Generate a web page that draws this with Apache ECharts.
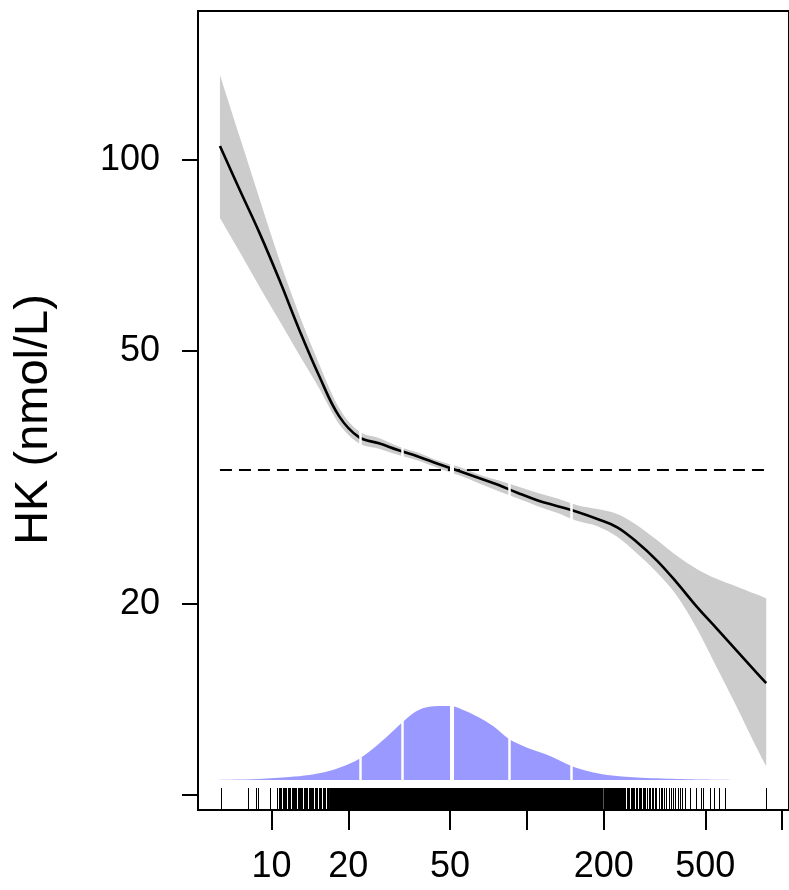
<!DOCTYPE html>
<html>
<head>
<meta charset="utf-8">
<script src="https://cdn.jsdelivr.net/npm/echarts@6/dist/echarts.min.js"></script>
<style>
  html, body { margin: 0; padding: 0; background: #fff; }
  #chart { width: 789px; height: 890px; }
</style>
</head>
<body>
<div id="chart"></div>
<script>
// fitted curve: exposure (x) vs HK (nmol/L), with confidence band
var curveX = [6.28, 7.51, 8.98, 10.74, 12.85, 15.37, 18.39, 22.00, 26.32, 31.48, 37.66, 45.05, 53.89, 64.47, 77.13,
  92.26, 110.4, 132.0, 157.9, 188.9, 226.0, 270.3, 323.4, 386.8, 462.9, 553.6, 662.2, 792.1, 866.6];
var fitMean = [105.2, 89.7, 76.7, 64.7, 54.0, 45.7, 39.5, 36.6, 35.8, 34.9, 34.1, 33.2, 32.4, 31.6, 30.8,
  29.9, 29.1, 28.5, 27.9, 27.2, 26.4, 25.0, 23.4, 21.6, 19.8, 18.3, 16.9, 15.6, 15.0];
var fitLower = [81.0, 71.6, 63.1, 55.8, 49.3, 43.7, 38.4, 35.8, 35.1, 34.3, 33.6, 32.7, 31.9, 31.0, 30.1,
  29.3, 28.5, 27.8, 27.0, 26.5, 25.5, 24.0, 22.4, 20.6, 18.3, 15.9, 13.8, 11.9, 11.1];
var fitUpper = [136.1, 108.7, 86.8, 69.6, 57.0, 47.7, 40.7, 37.4, 36.5, 35.4, 34.6, 33.6, 32.9, 32.0, 31.3,
  30.6, 29.9, 29.3, 28.6, 28.2, 27.7, 26.6, 25.2, 23.8, 22.7, 21.9, 21.3, 20.7, 20.4];
var refLevel = 32.5;

// distribution of x (relative density)
var densX = [5.24, 6.87, 8.98, 11.75, 14.05, 16.81, 19.23, 22.00, 25.17, 28.79, 32.34, 36.01, 39.38, 45.05,
  50.61, 56.36, 64.47, 73.74, 85.11, 100.9, 120.7, 149.7, 172.8, 206.7, 270.3, 386.8, 553.6, 792.1];
var densY = [0, 0.004, 0.014, 0.041, 0.068, 0.122, 0.189, 0.284, 0.432, 0.608, 0.770, 0.905, 0.973, 1.0,
  1.0, 0.946, 0.851, 0.730, 0.554, 0.432, 0.338, 0.189, 0.122, 0.068, 0.034, 0.014, 0.004, 0];

// quantile cuts (white gaps)
var cutX = [22.2, 32.6, 50.6, 85.1, 149.7];
var cutLow = [35.6, 33.9, 32.0, 29.1, 26.9];
var cutHigh = [37.7, 35.7, 33.3, 31.0, 29.0];

// rug of observations
var rugX = [6.32, 8.09, 8.72, 8.88, 9.82,
  10.55, 10.7, 10.8, 10.9, 11.1, 11.2, 11.3, 11.4, 11.6, 11.7, 11.8, 12.0, 12.1, 12.2, 12.4, 12.5, 12.7,
  12.8, 12.9, 13.1, 13.2, 13.4, 13.5, 13.6, 13.8, 14.0, 14.1, 14.3, 14.4, 14.6, 14.8, 14.9, 15.1, 15.3,
  15.5, 15.6, 15.9, 16.0, 16.2, 16.5, 16.6,
  201, 203, 204, 206, 208, 209, 211, 213, 215, 217, 218, 220, 222, 224, 226, 228, 230, 232, 234, 237,
  239, 241, 243, 247, 250, 252, 255, 258, 261, 263, 267, 270, 274, 277, 280, 284, 288, 291, 295, 300,
  304, 308, 313, 318, 322, 328, 334, 340, 346, 352, 359, 366, 374, 381, 390, 398, 406, 415,
  434.6, 458.7, 479.7, 488.4, 520.0, 538.9, 563.6, 600.1, 866.6];
var rugDense = [16.8, 200];

var xTicks = [10, 20, 50, 100, 200, 500, 1000];
var xLabels = [10, 20, 50, 200, 500];
var yTicks = [10, 20, 50, 100];
var yLabels = [20, 50, 100];

var lg = Math.log10;
var font = '"Liberation Sans", Arial, Helvetica, sans-serif';
var fmt = function (v) { return String(Math.round(Math.pow(10, v))); };
var last = curveX.length - 1;

// smooth path segments through pixel points (Catmull-Rom as cubic beziers)
function smoothSegs(pts) {
  var d = '';
  for (var i = 0; i < pts.length - 1; i++) {
    var p0 = pts[i - 1] || pts[i], p1 = pts[i], p2 = pts[i + 1], p3 = pts[i + 2] || pts[i + 1];
    var c1x = p1[0] + (p2[0] - p0[0]) / 6, c1y = p1[1] + (p2[1] - p0[1]) / 6;
    var c2x = p2[0] - (p3[0] - p1[0]) / 6, c2y = p2[1] - (p3[1] - p1[1]) / 6;
    d += ' C' + c1x + ' ' + c1y + ' ' + c2x + ' ' + c2y + ' ' + p2[0] + ' ' + p2[1];
  }
  return d;
}

var chart = echarts.init(document.getElementById('chart'));

var option = {
  animation: false,
  backgroundColor: '#fff',
  grid: {
    show: true, borderColor: '#000', borderWidth: 2,
    left: 198, top: 11, width: 595, height: 799
  },
  xAxis: [{
    type: 'value', min: 0.712, max: 3.027,
    axisLine: { show: false, onZero: false },
    splitLine: { show: false },
    axisTick: { show: true, inside: false, length: 20, customValues: xTicks.map(lg), lineStyle: { color: '#000', width: 2 } },
    axisLabel: {
      customValues: xLabels.map(lg), formatter: fmt,
      fontSize: 36, color: '#000', fontFamily: font, margin: 57, verticalAlign: 'middle'
    }
  }],
  yAxis: [{
    type: 'value', min: 0.9764, max: 2.2346,
    axisLine: { show: false, onZero: false },
    splitLine: { show: false },
    axisTick: { show: true, length: 16, customValues: yTicks.map(lg), lineStyle: { color: '#000', width: 2 } },
    axisLabel: {
      customValues: yLabels.map(lg), formatter: fmt,
      fontSize: 36, color: '#000', fontFamily: font, margin: 38
    },
    name: 'HK (nmol/L)', nameLocation: 'middle', nameRotate: 90, nameGap: 164,
    nameTextStyle: {
      fontSize: 47, color: '#000', fontFamily: font, align: 'center', verticalAlign: 'middle',
      padding: [0, 18, 0, 0]
    }
  }, {
    type: 'value', min: -0.4054, max: 10.392, show: false,
    axisLine: { onZero: false }
  }],
  series: [
    {
      // confidence band
      type: 'custom', silent: true, z: 1,
      data: [[lg(curveX[0]), lg(fitMean[0])]],
      renderItem: function (params, api) {
        if (params.dataIndex !== 0) return;
        var up = curveX.map(function (v, i) { return api.coord([lg(v), lg(fitUpper[i])]); });
        var lo = curveX.map(function (v, i) { return api.coord([lg(v), lg(fitLower[i])]); }).reverse();
        var d = 'M' + up[0][0] + ' ' + up[0][1] + smoothSegs(up) +
                ' L' + lo[0][0] + ' ' + lo[0][1] + smoothSegs(lo) + ' Z';
        return { type: 'path', shape: { pathData: d }, style: { fill: '#cccccc' } };
      }
    },
    {
      // reference line
      type: 'line', z: 2, silent: true, showSymbol: false,
      data: [[lg(curveX[0]), lg(refLevel)], [lg(curveX[last]), lg(refLevel)]],
      lineStyle: { color: '#000', width: 2, type: [12, 7] }
    },
    {
      // fitted curve
      type: 'line', z: 3, silent: true, showSymbol: false, smooth: 0.4,
      data: curveX.map(function (v, i) { return [lg(v), lg(fitMean[i])]; }),
      lineStyle: { color: '#000', width: 2.6 },
      markLine: {
        silent: true, symbol: ['none', 'none'], label: { show: false }, animation: false,
        lineStyle: { color: '#fff', type: 'solid', width: 2 },
        data: cutX.map(function (q, i) {
          return [{ coord: [lg(q), lg(cutLow[i])], lineStyle: { color: '#fff', width: i === 2 ? 4 : 2.5 } },
                  { coord: [lg(q), lg(cutHigh[i])] }];
        })
      }
    },
    {
      // density of x
      type: 'line', yAxisIndex: 1, z: 2, silent: true, showSymbol: false, smooth: 0.3,
      data: densX.map(function (v, i) { return [lg(v), densY[i]]; }),
      lineStyle: { width: 0, opacity: 0 },
      areaStyle: { color: '#9999ff', opacity: 1 },
      markLine: {
        silent: true, symbol: ['none', 'none'], label: { show: false }, animation: false,
        lineStyle: { color: '#fff', type: 'solid', width: 2 },
        data: cutX.map(function (q, i) {
          return [{ coord: [lg(q), 0], lineStyle: { color: '#fff', width: i === 2 ? 4 : 2.5 } },
                  { coord: [lg(q), 1.06] }];
        })
      }
    },
    {
      // rug
      type: 'custom', yAxisIndex: 1, z: 4, silent: true,
      data: rugX.map(function (v) { return [lg(v), 0]; }),
      renderItem: function (params, api) {
        var p = api.coord([api.value(0), 0]);
        var cs = params.coordSys;
        var bottom = cs.y + cs.height;
        var x = Math.round(p[0]) + 0.5;
        return { type: 'line', shape: { x1: x, y1: bottom - 22, x2: x, y2: bottom - 1 },
                 style: { stroke: '#000', lineWidth: 1 } };
      }
    },
    {
      // dense part of the rug
      type: 'custom', yAxisIndex: 1, z: 4, silent: true,
      data: [[lg(rugDense[0]), lg(rugDense[1])]],
      renderItem: function (params, api) {
        var a = api.coord([api.value(0), 0]);
        var b = api.coord([api.value(1), 0]);
        var cs = params.coordSys;
        var bottom = cs.y + cs.height;
        return { type: 'rect', shape: { x: a[0], y: bottom - 22, width: b[0] - a[0], height: 21 },
                 style: { fill: '#000' } };
      }
    }
  ]
};

chart.setOption(option);
</script>
</body>
</html>
